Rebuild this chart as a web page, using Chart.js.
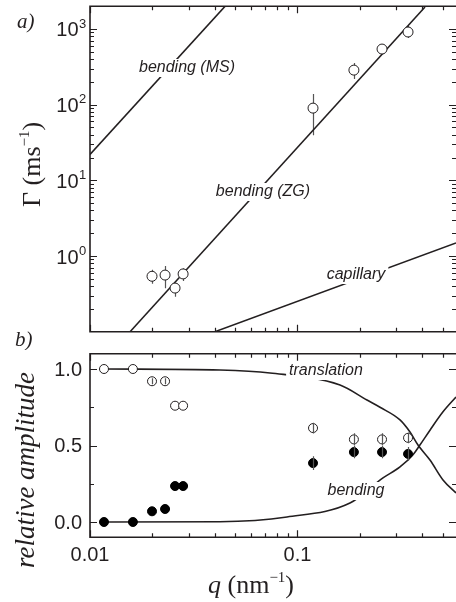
<!DOCTYPE html>
<html>
<head>
<meta charset="utf-8">
<script src="https://cdn.jsdelivr.net/npm/chart.js@4.4.1/dist/chart.umd.min.js"></script>
<style>
  html, body { margin: 0; padding: 0; background: #fff; }
  #wrap { position: relative; width: 456px; height: 602px; overflow: hidden; }
  canvas { position: absolute; left: 0; }
  #rate-chart { top: 0; }
  #amp-chart { top: 350px; }
</style>
</head>
<body>
<div id="wrap">
  <canvas id="rate-chart" width="456" height="350"></canvas>
  <canvas id="amp-chart" width="456" height="252"></canvas>
</div>
<script>
//Panel a) damping rate vs q (open circles with error bars)
const qRate = [0.0199, 0.0230, 0.0257, 0.0281, 0.1188, 0.187, 0.2555, 0.341];
const rate = [0.54, 0.56, 0.377, 0.58, 90, 286, 543, 912];
const rateLow = [0.43, 0.375, 0.29, 0.467, 39.5, 218, 467, 760];
const rateHigh = [0.66, 0.74, 0.44, 0.69, 138, 355, 633, 1095];

//model lines, end points
const msQ = [0.01, 0.0448];
const msRate = [22, 2000];
const zgQ = [0.0156, 0.4116];
const zgRate = [0.1, 1955];
const capQ = [0.040, 0.5806];
const capRate = [0.1, 1.49];

//Panel b) relative amplitudes
const qAmp = [0.01168, 0.0161, 0.0199, 0.0230, 0.0257, 0.0281, 0.1188, 0.187, 0.2555, 0.341];
const transAmp = [1.0, 1.0, 0.92, 0.92, 0.76, 0.76, 0.614, 0.54, 0.54, 0.55];
const transErr = [0, 0, 0.02, 0.02, 0, 0, 0.035, 0.04, 0.04, 0.035];
const bendAmp = [0.0, 0.0, 0.07, 0.085, 0.235, 0.235, 0.385, 0.457, 0.457, 0.445];
const bendErr = [0, 0, 0, 0, 0, 0, 0.045, 0.04, 0.04, 0.045];

const transCurveQ = [0.01168, 0.0423, 0.0737, 0.1603, 0.2162, 0.2498, 0.3119, 0.3484, 0.3808, 0.435, 0.5026, 0.5806];
const transCurve = [1.0, 0.993, 0.974, 0.895, 0.797, 0.75, 0.667, 0.588, 0.503, 0.405, 0.275, 0.19];
const bendCurveQ = [0.01168, 0.0423, 0.089, 0.179, 0.2582, 0.3119, 0.3603, 0.389, 0.435, 0.5026, 0.5806];
const bendCurve = [0.0, 0.002, 0.033, 0.124, 0.288, 0.36, 0.44, 0.503, 0.60, 0.72, 0.817];

//axis ticks
const qMax = 0.5806;
const qMajor = [0.01, 0.1];
const qMajorLabels = ['0.01', '0.1'];
const qMinor = [0.02, 0.03, 0.04, 0.05, 0.06, 0.07, 0.08, 0.09, 0.2, 0.3, 0.4, 0.5];
const rateMajor = [1, 10, 100, 1000];
const rateExp = ['0', '1', '2', '3'];
const rateMinor = [0.2, 0.3, 0.4, 0.5, 0.6, 0.7, 0.8, 0.9, 2, 3, 4, 5, 6, 7, 8, 9,
  20, 30, 40, 50, 60, 70, 80, 90, 200, 300, 400, 500, 600, 700, 800, 900];
const ampMajor = [0, 0.5, 1.0];
const ampMajorLabels = ['0.0', '0.5', '1.0'];
const ampMinor = [0.25, 0.75];

const INK = '#231f20';
const SANS = '"Liberation Sans", Arial, Helvetica, sans-serif';
const SERIF = '"Liberation Serif", "Times New Roman", serif';

const xy = (xs, ys) => xs.map((v, i) => ({x: v, y: ys[i]}));

//frame and inward ticks (right spine is cut off in the original)
function drawFrame(chart, xMinor, yMajor, yMinor) {
  const {ctx, chartArea: a, scales: {x, y}} = chart;
  ctx.save();
  ctx.strokeStyle = INK;
  ctx.lineWidth = 1.2;
  ctx.beginPath();
  const xt = qMajor.map(v => [v, 7]).concat(xMinor.map(v => [v, 4]));
  xt.forEach(([v, len]) => {
    const px = Math.round(x.getPixelForValue(v)) + 0.5;
    ctx.moveTo(px, a.bottom); ctx.lineTo(px, a.bottom - len);
    ctx.moveTo(px, a.top); ctx.lineTo(px, a.top + len);
  });
  const yt = yMajor.map(v => [v, 7]).concat(yMinor.map(v => [v, 4]));
  yt.forEach(([v, len]) => {
    const py = Math.round(y.getPixelForValue(v)) + 0.5;
    ctx.moveTo(a.left, py); ctx.lineTo(a.left + len, py);
    ctx.moveTo(a.right, py); ctx.lineTo(a.right - len, py);
  });
  ctx.stroke();
  ctx.lineWidth = 1.6;
  ctx.beginPath();
  ctx.moveTo(a.right, a.top);
  ctx.lineTo(a.left, a.top);
  ctx.lineTo(a.left, a.bottom);
  ctx.lineTo(a.right, a.bottom);
  ctx.stroke();
  ctx.restore();
}

function drawErrBars(chart, qs, lo, hi) {
  const {ctx, scales: {x, y}} = chart;
  ctx.save();
  ctx.strokeStyle = '#555';
  ctx.lineWidth = 1.2;
  ctx.beginPath();
  qs.forEach((q, i) => {
    if (lo[i] === hi[i]) return;
    const px = Math.round(x.getPixelForValue(q)) + 0.5;
    ctx.moveTo(px, y.getPixelForValue(lo[i]));
    ctx.lineTo(px, y.getPixelForValue(hi[i]));
  });
  ctx.stroke();
  ctx.restore();
}

//italic labels sitting on the curves, white box hides the line behind
function curveLabel(ctx, text, cx, cy) {
  ctx.save();
  ctx.font = 'italic 16px ' + SANS;
  const w = ctx.measureText(text).width;
  ctx.fillStyle = '#fff';
  ctx.fillRect(cx - w / 2 - 3, cy - 9, w + 6, 18);
  ctx.fillStyle = INK;
  ctx.textAlign = 'center';
  ctx.textBaseline = 'middle';
  ctx.fillText(text, cx, cy);
  ctx.restore();
}

//writes pieces [text, font, raise] one after another starting at (0,0)
function drawPieces(ctx, pieces) {
  let cx = 0;
  pieces.forEach(([t, font, raise]) => {
    ctx.font = font;
    ctx.fillText(t, cx, -raise);
    cx += ctx.measureText(t).width;
  });
}

const ratePlugin = {
  id: 'rateDecor',
  beforeDatasetsDraw(chart) {
    drawErrBars(chart, qRate, rateLow, rateHigh);
  },
  afterDatasetsDraw(chart) {
    const ctx = chart.ctx;
    curveLabel(ctx, 'bending (MS)', 187, 68);
    curveLabel(ctx, 'bending (ZG)', 263, 192);
    curveLabel(ctx, 'capillary', 356, 275);
  },
  afterDraw(chart) {
    const {ctx, scales: {y}} = chart;
    drawFrame(chart, qMinor, rateMajor, rateMinor);
    ctx.save();
    ctx.fillStyle = INK;
    //y tick labels 10^n
    rateMajor.forEach((v, i) => {
      const py = y.getPixelForValue(v);
      ctx.font = '20px ' + SANS;
      ctx.textAlign = 'right';
      ctx.textBaseline = 'middle';
      ctx.fillText('10', 78.5, py + 2);
      ctx.font = '13px ' + SANS;
      ctx.textAlign = 'left';
      ctx.fillText(rateExp[i], 79, py - 5);
    });
    //panel letters
    ctx.textAlign = 'left';
    ctx.textBaseline = 'alphabetic';
    ctx.font = 'italic 21px ' + SERIF;
    ctx.fillText('a)', 17, 28);
    ctx.fillText('b)', 15, 346);
    //y title
    ctx.translate(40, 207);
    ctx.rotate(-Math.PI / 2);
    drawPieces(ctx, [
      ['\u0393 (ms', '26px ' + SERIF, 0],
      ['\u22121', '15px ' + SERIF, 11],
      [')', '26px ' + SERIF, 0]
    ]);
    ctx.restore();
  }
};

const ampPlugin = {
  id: 'ampDecor',
  afterDatasetsDraw(chart) {
    const ctx = chart.ctx;
    const lo = qAmp.map((q, i) => transAmp[i] - transErr[i]);
    const hi = qAmp.map((q, i) => transAmp[i] + transErr[i]);
    drawErrBars(chart, qAmp, lo, hi);
    const lo2 = qAmp.map((q, i) => bendAmp[i] - bendErr[i]);
    const hi2 = qAmp.map((q, i) => bendAmp[i] + bendErr[i]);
    drawErrBars(chart, qAmp, lo2, hi2);
    curveLabel(ctx, 'translation', 326, 21);
    curveLabel(ctx, 'bending', 356, 141);
  },
  afterDraw(chart) {
    const {ctx, scales: {x, y}} = chart;
    drawFrame(chart, qMinor, ampMajor, ampMinor);
    ctx.save();
    ctx.fillStyle = INK;
    ctx.font = '20px ' + SANS;
    ctx.textAlign = 'right';
    ctx.textBaseline = 'middle';
    ampMajor.forEach((v, i) => {
      ctx.fillText(ampMajorLabels[i], 82, y.getPixelForValue(v) + 1);
    });
    ctx.textAlign = 'center';
    qMajor.forEach((v, i) => {
      ctx.fillText(qMajorLabels[i], x.getPixelForValue(v), 205);
    });
    //x title
    ctx.textAlign = 'left';
    ctx.textBaseline = 'alphabetic';
    ctx.save();
    ctx.translate(208, 243);
    drawPieces(ctx, [
      ['q', 'italic 26px ' + SERIF, 0],
      [' (nm', '26px ' + SERIF, 0],
      ['\u22121', '15px ' + SERIF, 11],
      [')', '26px ' + SERIF, 0]
    ]);
    ctx.restore();
    //y title
    ctx.translate(34, 120);
    ctx.rotate(-Math.PI / 2);
    ctx.textAlign = 'center';
    ctx.font = 'italic 27px ' + SERIF;
    ctx.fillText('relative amplitude', 0, 0);
    ctx.restore();
  }
};

const lineStyle = {
  showLine: true,
  pointRadius: 0,
  borderColor: INK,
  borderWidth: 1.6,
  order: 2
};

const commonOptions = {
  responsive: false,
  animation: false,
  events: [],
  plugins: { legend: { display: false }, tooltip: { enabled: false } }
};

//Log-log chart
const rateChart = new Chart(document.getElementById('rate-chart'), {
  type: 'scatter',
  data: {
    datasets: [
      { data: xy(qRate, rate), pointRadius: 5, pointBackgroundColor: '#fff',
        pointBorderColor: INK, pointBorderWidth: 1, order: 0 },
      Object.assign({ data: xy(msQ, msRate) }, lineStyle),
      Object.assign({ data: xy(zgQ, zgRate) }, lineStyle),
      Object.assign({ data: xy(capQ, capRate) }, lineStyle)
    ]
  },
  options: Object.assign({}, commonOptions, {
    layout: { autoPadding: false, padding: { left: 90, top: 6.2, right: 0, bottom: 18.3 } },
    scales: {
      x: { type: 'logarithmic', min: 0.01, max: qMax, display: false },
      y: { type: 'logarithmic', min: 0.1, max: 2000, display: false }
    }
  }),
  plugins: [ratePlugin]
});

//Amplitude chart
const ampChart = new Chart(document.getElementById('amp-chart'), {
  type: 'scatter',
  data: {
    datasets: [
      { data: xy(qAmp, transAmp), pointRadius: 4.5, pointBackgroundColor: '#fff',
        pointBorderColor: INK, pointBorderWidth: 1, order: 0 },
      { data: xy(qAmp, bendAmp), pointRadius: 4.5, pointBackgroundColor: '#000',
        pointBorderColor: '#000', pointBorderWidth: 1, order: 0 },
      Object.assign({ data: xy(transCurveQ, transCurve), tension: 0.4,
        cubicInterpolationMode: 'monotone' }, lineStyle),
      Object.assign({ data: xy(bendCurveQ, bendCurve), tension: 0.4,
        cubicInterpolationMode: 'monotone' }, lineStyle)
    ]
  },
  options: Object.assign({}, commonOptions, {
    layout: { autoPadding: false, padding: { left: 90, top: 3.7, right: 0, bottom: 64.7 } },
    scales: {
      x: { type: 'logarithmic', min: 0.01, max: qMax, display: false },
      y: { type: 'linear', min: -0.1, max: 1.1, display: false }
    }
  }),
  plugins: [ampPlugin]
});
</script>
</body>
</html>
